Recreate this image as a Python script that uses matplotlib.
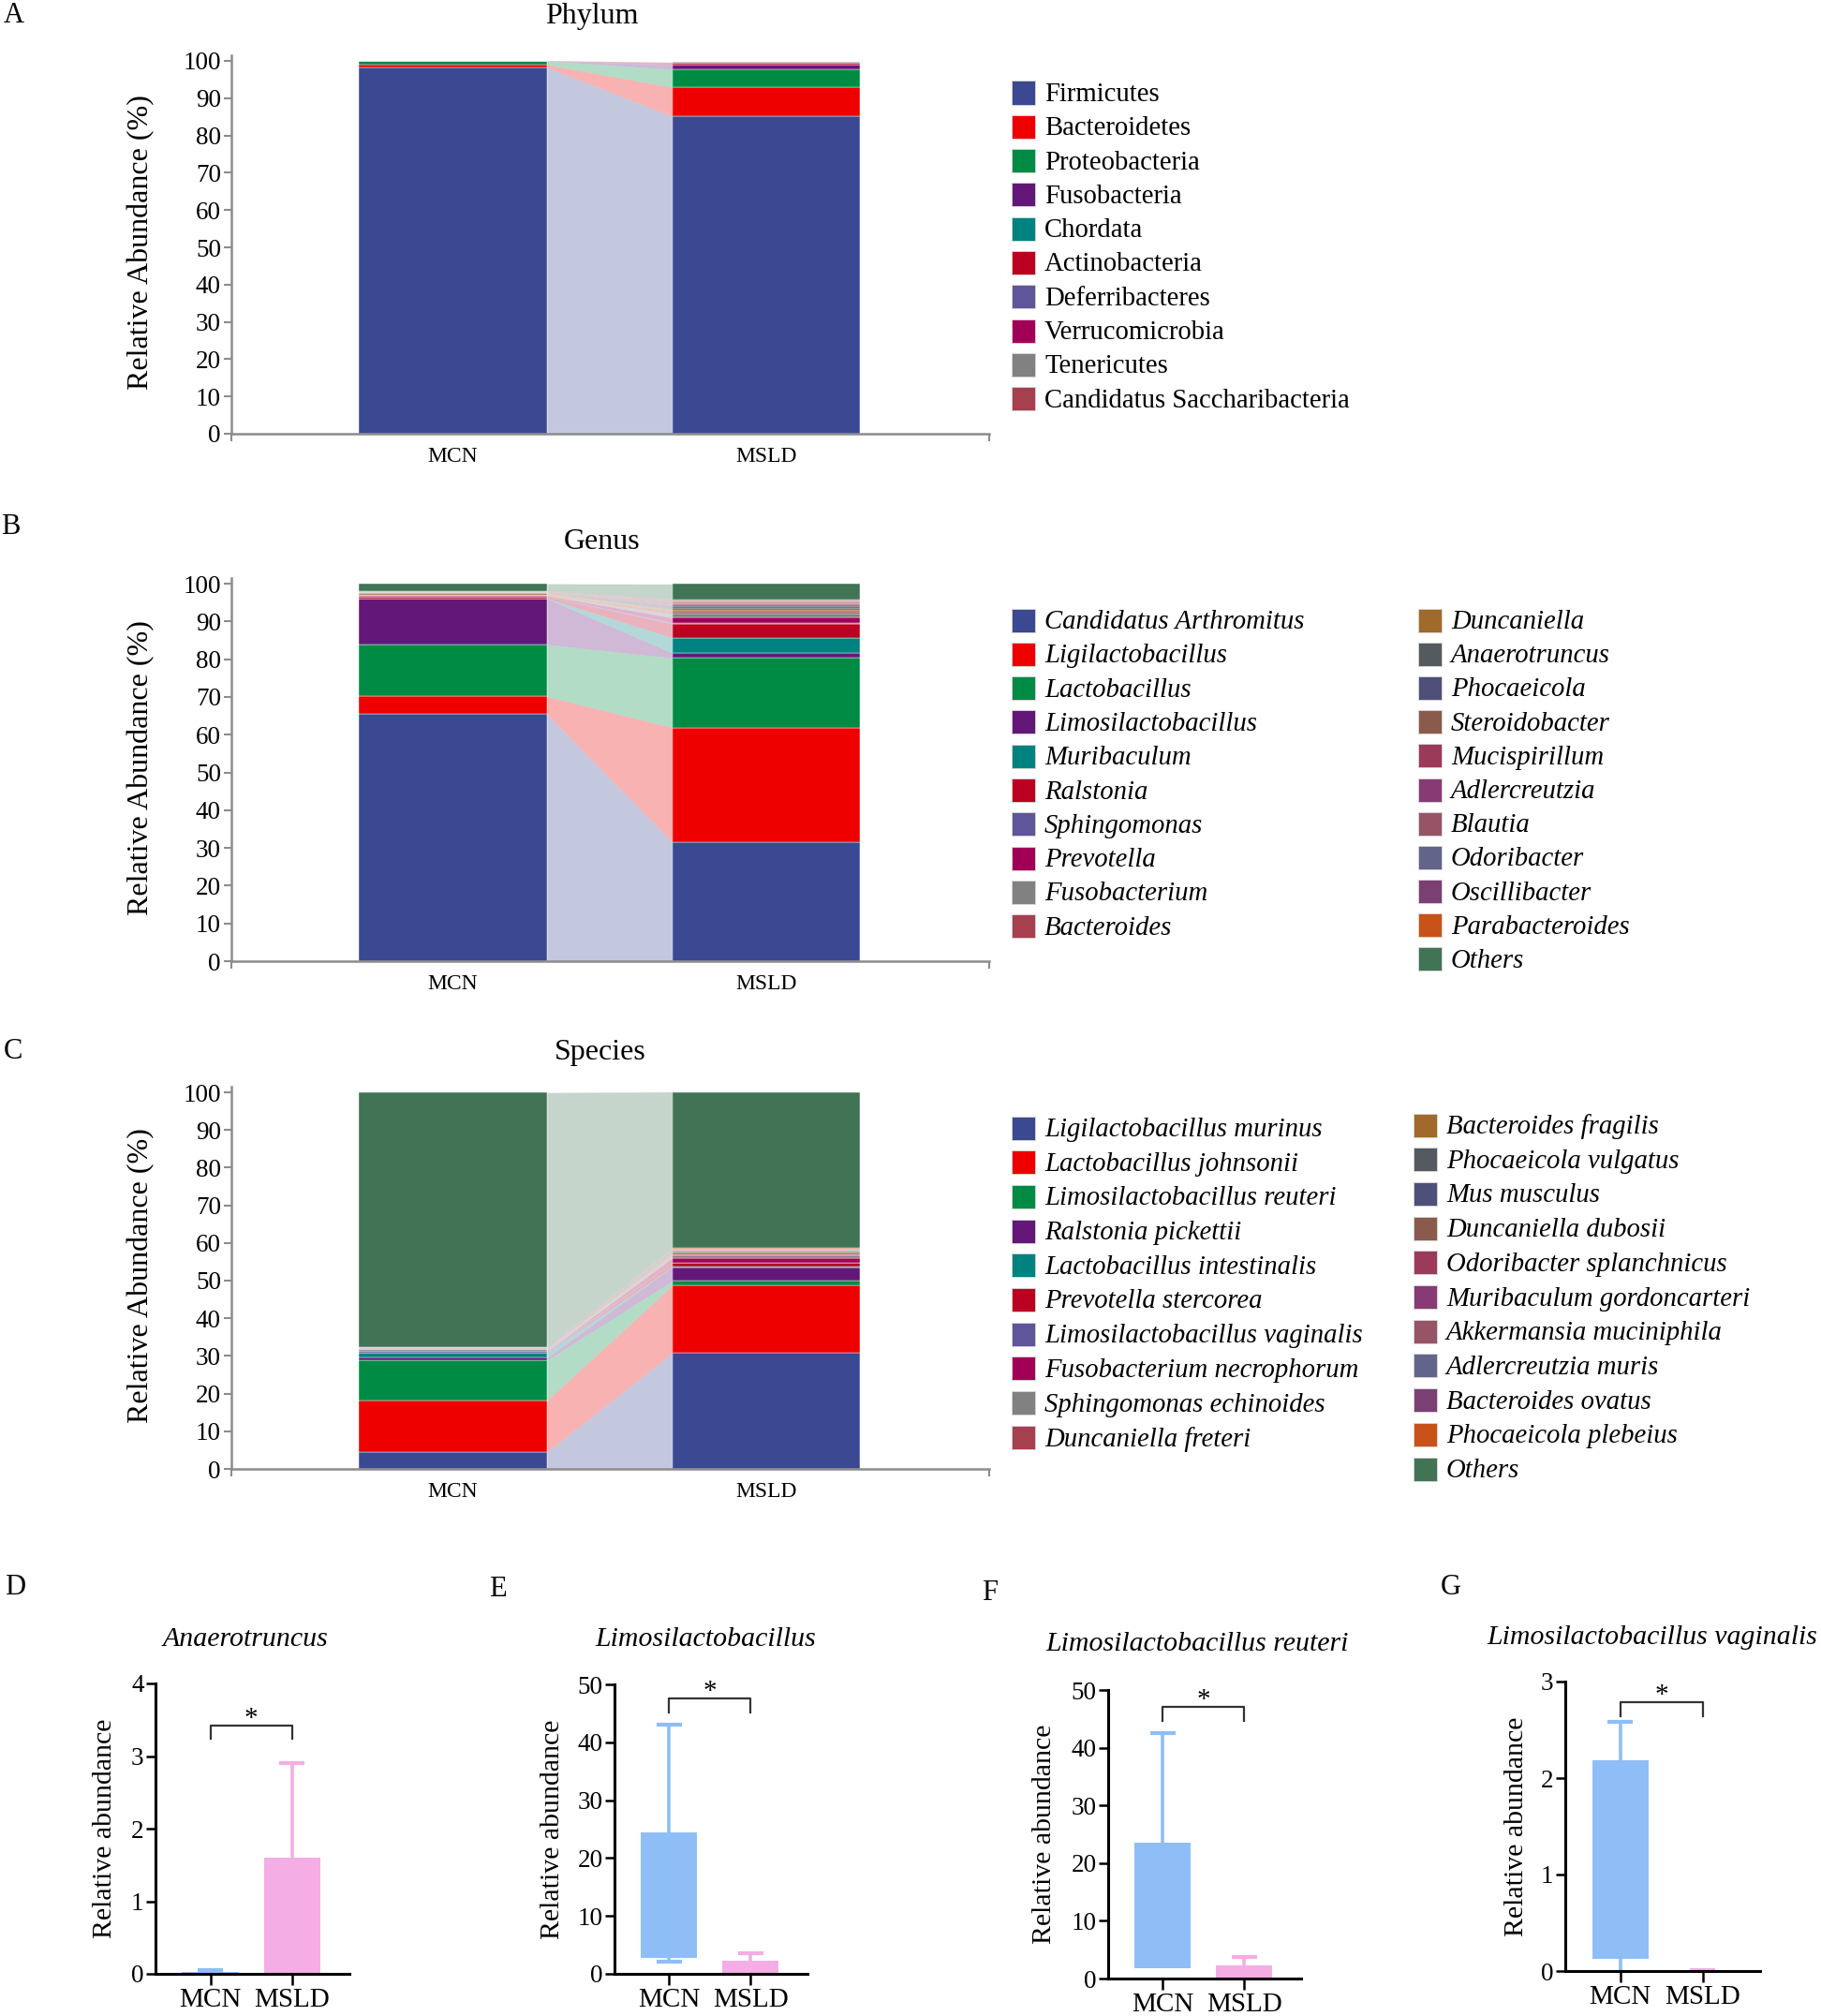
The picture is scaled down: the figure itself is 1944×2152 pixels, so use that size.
import matplotlib
matplotlib.use('Agg')
import matplotlib.pyplot as plt
from matplotlib.patches import Rectangle
import numpy as np

plt.rcParams['font.family'] = ['Liberation Serif', 'DejaVu Serif']

W, H = 1944, 2152
DPI = 100

groups = ['MCN', 'MSLD']

palette = ['#3B4992', '#EE0000', '#008B45', '#631879', '#008280', '#BB0021',
           '#5F559B', '#A20056', '#808180', '#A6404F', '#A06A2A', '#545A60',
           '#4E5079', '#8A5B4C', '#9C3A5A', '#883A74', '#965466', '#62648A',
           '#7C3F74', '#C8521A', '#417455']

# Panel A - phylum
phylum_names = ['Firmicutes', 'Bacteroidetes', 'Proteobacteria', 'Fusobacteria',
                'Chordata', 'Actinobacteria', 'Deferribacteres', 'Verrucomicrobia',
                'Tenericutes', 'Candidatus Saccharibacteria']
phylum_mcn = [98.3, 0.7, 1.0, 0.02, 0.01, 0.03, 0.02, 0.01, 0.01, 0.01]
phylum_msld = [85.1, 7.8, 4.85, 1.25, 0.05, 0.5, 0.05, 0.02, 0.02, 0.02]

# Panel B - genus
genus_names = ['Candidatus Arthromitus', 'Ligilactobacillus', 'Lactobacillus',
               'Limosilactobacillus', 'Muribaculum', 'Ralstonia', 'Sphingomonas',
               'Prevotella', 'Fusobacterium', 'Bacteroides', 'Duncaniella',
               'Anaerotruncus', 'Phocaeicola', 'Steroidobacter', 'Mucispirillum',
               'Adlercreutzia', 'Blautia', 'Odoribacter', 'Oscillibacter',
               'Parabacteroides', 'Others']
genus_mcn = [65.4, 4.7, 13.8, 12.1, 0.1, 0.5, 0.05, 0.2, 0.05, 0.05, 0.6,
             0.02, 0.05, 0.05, 0.05, 0.1, 0.05, 0.05, 0.05, 0.05, 1.95]
genus_msld = [31.5, 30.4, 18.4, 1.3, 4.1, 3.6, 0.4, 1.25, 1.1, 0.6, 0.5,
              0.4, 0.6, 0.3, 0.3, 0.2, 0.3, 0.2, 0.2, 0.2, 4.05]

# Panel C - species
species_names = ['Ligilactobacillus murinus', 'Lactobacillus johnsonii',
                 'Limosilactobacillus reuteri', 'Ralstonia pickettii',
                 'Lactobacillus intestinalis', 'Prevotella stercorea',
                 'Limosilactobacillus vaginalis', 'Fusobacterium necrophorum',
                 'Sphingomonas echinoides', 'Duncaniella freteri',
                 'Bacteroides fragilis', 'Phocaeicola vulgatus', 'Mus musculus',
                 'Duncaniella dubosii', 'Odoribacter splanchnicus',
                 'Muribaculum gordoncarteri', 'Akkermansia muciniphila',
                 'Adlercreutzia muris', 'Bacteroides ovatus',
                 'Phocaeicola plebeius', 'Others']
species_mcn = [4.5, 13.7, 10.7, 0.6, 1.3, 0.1, 0.4, 0.05, 0.4, 0.1, 0.05,
               0.05, 0.1, 0.05, 0.05, 0.1, 0.05, 0.05, 0.05, 0.05, 67.5]
species_msld = [30.8, 17.9, 1.2, 3.7, 0.1, 1.1, 0.02, 1.2, 0.8, 0.2, 0.5,
                0.2, 0.2, 0.1, 0.1, 0.1, 0.1, 0.1, 0.1, 0.1, 41.5]

# Panels D-G: floating bars (low, high) with whiskers
box_titles = ['Anaerotruncus', 'Limosilactobacillus',
              'Limosilactobacillus reuteri', 'Limosilactobacillus vaginalis']
box_low = [[0.0, 0.0], [2.7, 0.15], [1.8, 0.1], [0.13, 0.0]]
box_high = [[0.02, 1.6], [24.5, 2.2], [23.5, 2.3], [2.18, 0.01]]
box_up = [[0.05, 2.9], [43.0, 3.6], [42.6, 3.7], [2.58, 0.01]]
box_down = [[None, None], [2.1, None], [None, None], [0.0, None]]
box_ymax = [4, 50, 50, 3]
box_ystep = [1, 10, 10, 1]
bracket_top = [3.42, 47.6, 47.1, 2.79]
bracket_leg = [3.24, 45.1, 44.6, 2.64]
box_colors = ['#8FBEF6', '#F5ADE5']

fig = plt.figure(figsize=(W / DPI, H / DPI), dpi=DPI)


def fx(x):
    return x / W


def fy(y):
    return 1 - y / H


def legend_col(names, colors, x_patch, y_first, step, italic):
    for k, (nm, c) in enumerate(zip(names, colors)):
        yc = y_first + k * step
        fig.patches.append(Rectangle((fx(x_patch), fy(yc + 12.5)), 25 / W, 25 / H,
                                     transform=fig.transFigure, facecolor=c,
                                     edgecolor='#d8d8d8', lw=0.6))
        fig.text(fx(x_patch + 35), fy(yc + 2), nm, va='center', ha='left',
                 fontsize=20.7, style='italic' if italic else 'normal')


def stacked(y0, y100, names, mcn, msld, title, title_xy, letter, letter_xy):
    ppu = (y0 - y100) / 100.0
    top = y100 - 1.5 * ppu
    ax = fig.add_axes([fx(247), fy(y0), (1056 - 247) / W, (y0 - top) / H])
    w = 0.6
    b0 = np.concatenate([[0], np.cumsum(mcn)[:-1]])
    b1 = np.concatenate([[0], np.cumsum(msld)[:-1]])
    for i in range(len(names)):
        c = palette[i] if names[i] != 'Others' else palette[-1]
        ax.bar(0, mcn[i], w, bottom=b0[i], color=c, edgecolor='white', lw=0.3)
        ax.bar(1, msld[i], w, bottom=b1[i], color=c, edgecolor='white', lw=0.3)
        ax.fill_between([w / 2, 1 - w / 2], [b0[i], b1[i]],
                        [b0[i] + mcn[i], b1[i] + msld[i]],
                        color=c, alpha=0.3, lw=0)
    ax.set_xlim(-0.707, 1.711)
    ax.set_ylim(0, 101.5)
    ax.set_yticks(np.arange(0, 101, 10))
    ax.set_xticks([0, 1])
    ax.set_xticklabels(groups, fontsize=17)
    ax.set_xticks([-0.707, 1.711], minor=True)
    for s in ['top', 'right']:
        ax.spines[s].set_visible(False)
    for s in ['left', 'bottom']:
        ax.spines[s].set_color('#8C8C8C')
        ax.spines[s].set_linewidth(1.8)
    ax.tick_params(axis='y', length=6, width=1.5, color='#8C8C8C',
                   labelsize=19.5, pad=2)
    ax.tick_params(axis='x', which='major', length=0, pad=10)
    ax.tick_params(axis='x', which='minor', length=6, width=1.5, color='#8C8C8C')
    fig.text(fx(151), fy((y0 + y100) / 2 - 5), 'Relative Abundance (%)',
             rotation=90, ha='center', va='center', fontsize=23)
    fig.text(fx(title_xy[0]), fy(title_xy[1]), title, ha='center',
             va='center', fontsize=23)
    fig.text(fx(letter_xy[0]), fy(letter_xy[1]), letter, ha='center',
             va='center', fontsize=22)
    return ax


stacked(463, 65, phylum_names, phylum_mcn, phylum_msld, 'Phylum', (632, 18),
        'A', (15, 17))
legend_col(phylum_names, palette[:10], 1080, 99, 36.3, False)

stacked(1026, 623, genus_names, genus_mcn, genus_msld, 'Genus', (643, 579),
        'B', (11, 563))
legend_col(genus_names[:10], palette[:10], 1080, 662, 36.3, True)
legend_col(genus_names[10:], palette[10:], 1514, 662, 36.2, True)

stacked(1568, 1166, species_names, species_mcn, species_msld, 'Species',
        (641, 1123), 'C', (14, 1122))
legend_col(species_names[:10], palette[:10], 1080, 1204, 36.7, True)
legend_col(species_names[10:], palette[10:], 1509, 1201, 36.7, True)

# bottom panels
box_rects = [(166, 373, 2107, 1797), (656, 862, 2107, 1798),
             (1183, 1389, 2112, 1804), (1671, 1879, 2104, 1795)]
title_pos = [(262, 1750), (753, 1750), (1278, 1755), (1764, 1748)]
ylabel_x = [112, 590, 1115, 1619]
letters = ['D', 'E', 'F', 'G']
letter_pos = [(16, 1695), (531, 1697), (1057, 1700), (1549, 1695)]
cap = 0.155

for p in range(4):
    x0, x1, y0, ytop = box_rects[p]
    ax = fig.add_axes([fx(x0), fy(y0), (x1 - x0) / W, (y0 - ytop) / H])
    for g in range(2):
        lo, hi = box_low[p][g], box_high[p][g]
        col = box_colors[g]
        ax.bar(g, hi - lo, 0.69, bottom=lo, color=col, lw=0, zorder=2)
        up = box_up[p][g]
        ax.vlines(g, hi, up, color=col, lw=2.6, zorder=2)
        ax.hlines(up, g - cap, g + cap, color=col, lw=3, zorder=2)
        dn = box_down[p][g]
        if dn is not None:
            ax.vlines(g, dn, lo, color=col, lw=2.6, zorder=2)
            if dn > 0:
                ax.hlines(dn, g - cap, g + cap, color=col, lw=3, zorder=2)
    bt, bl = bracket_top[p], bracket_leg[p]
    ax.plot([0, 0, 1, 1], [bl, bt, bt, bl], color='#333333', lw=1.6,
            clip_on=False)
    ax.text(0.5, bt, '*', ha='center', va='baseline', fontsize=21)
    ax.set_xlim(-0.67, 1.7)
    ax.set_ylim(0, box_ymax[p])
    ax.set_yticks(np.arange(0, box_ymax[p] + 0.01, box_ystep[p]))
    ax.set_xticks([0, 1])
    ax.set_xticklabels(groups, fontsize=21)
    for s in ['top', 'right']:
        ax.spines[s].set_visible(False)
    for s in ['left', 'bottom']:
        ax.spines[s].set_linewidth(2.2)
        ax.spines[s].set_zorder(3)
    ax.tick_params(axis='y', length=7, width=1.8, labelsize=19.5, pad=2)
    ax.tick_params(axis='x', length=8.5, width=1.8, pad=2)
    fig.text(fx(ylabel_x[p]), fy((y0 + ytop) / 2), 'Relative abundance',
             rotation=90, ha='center', va='center', fontsize=21.5)
    fig.text(fx(title_pos[p][0]), fy(title_pos[p][1]), box_titles[p],
             ha='center', va='center', fontsize=21.5, style='italic')
    fig.text(fx(letter_pos[p][0]), fy(letter_pos[p][1]), letters[p],
             ha='center', va='center', fontsize=22)

fig.savefig('out.png', dpi=DPI)
